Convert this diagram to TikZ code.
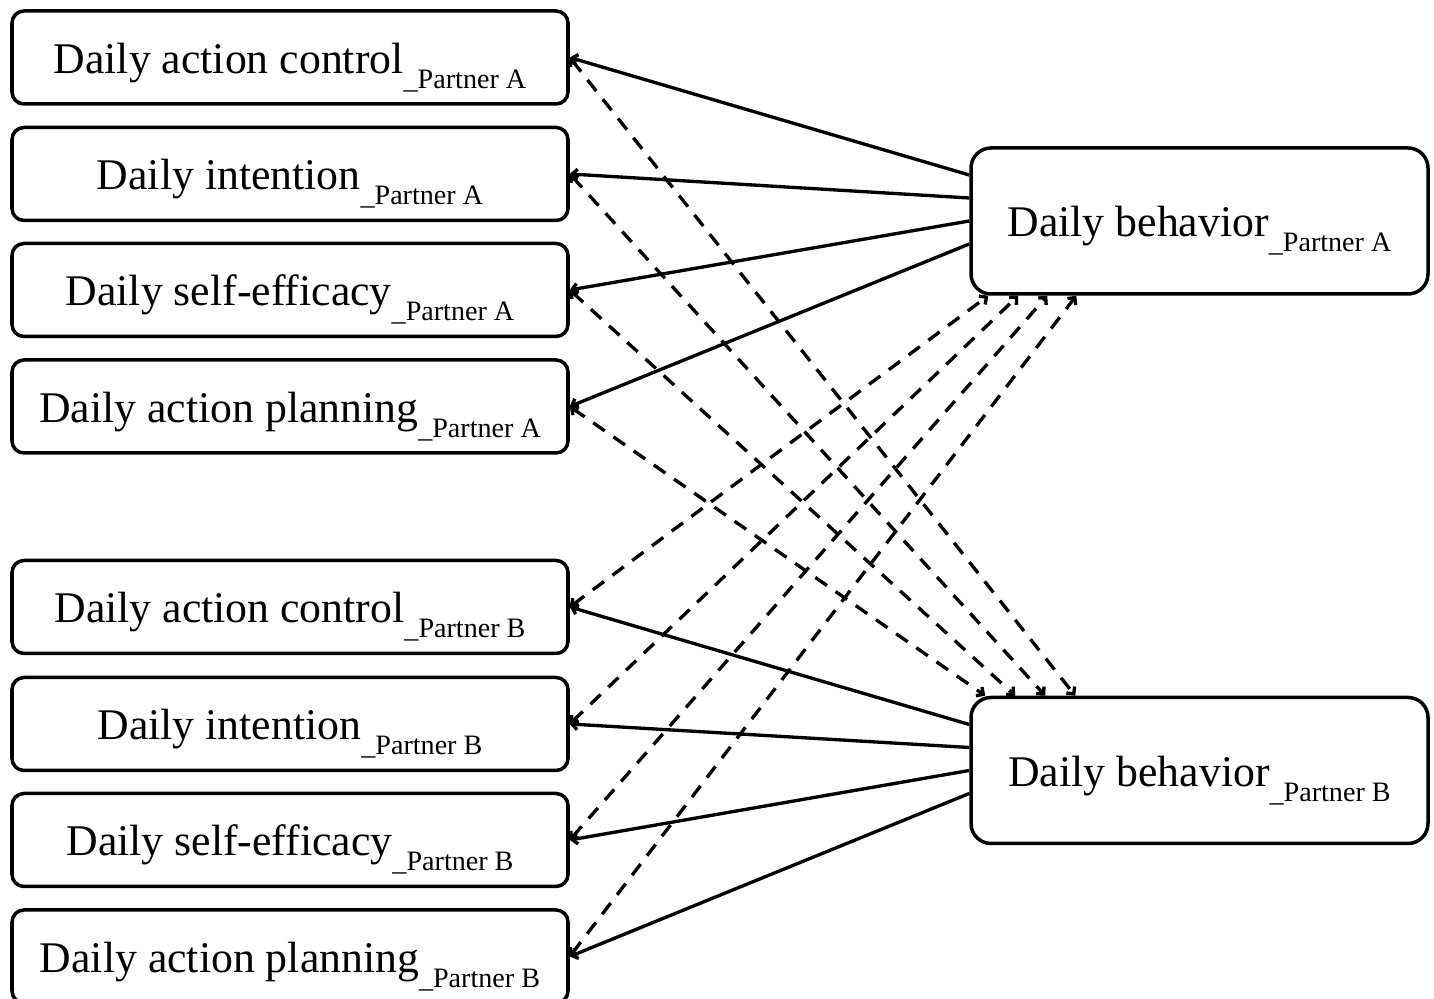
\documentclass[tikz,border=0pt]{standalone}
\usepackage{fontspec}
\setmainfont{Liberation Serif}
\usetikzlibrary{arrows.meta}
\newcommand{\ptn}[1]{\raisebox{-8.5pt}{\fontsize{16}{16}\selectfont\_Partner #1}}

\begin{document}
\begin{tikzpicture}[>={Straight Barb[length=3pt,width=6pt]},
    pred/.style={draw, line width=2pt, rounded corners=0.24cm, minimum width=11.12cm,
        minimum height=1.86cm, inner sep=0pt, text height=0.75cm, text depth=0.11cm,
        font=\fontsize{24.9}{28}\selectfont},
    outc/.style={pred, rounded corners=0.4cm, minimum width=9.14cm, minimum height=2.92cm},
    path/.style={line width=1.9pt},
    cross/.style={line width=1.9pt, dash pattern=on 8pt off 6pt}]
         \useasboundingbox (0,0) rectangle (28.68,19.98);
         % predictors, partner A
         \node[pred] (acA) at (5.8,18.83) {Daily action control\ptn{A}};
         \node[pred] (inA) at (5.8,16.5) {Daily intention\ptn{A}};
         \node[pred] (seA) at (5.8,14.18) {Daily self-efficacy\ptn{A}};
         \node[pred] (apA) at (5.8,11.85) {Daily action planning\ptn{A}};
         % predictors, partner B
         \node[pred] (acB) at (5.8,7.84) {Daily action control\ptn{B}};
         \node[pred] (inB) at (5.8,5.5) {Daily intention\ptn{B}};
         \node[pred] (seB) at (5.8,3.18) {Daily self-efficacy\ptn{B}};
         \node[pred] (apB) at (5.8,0.85) {Daily action planning\ptn{B}};
         % outcomes
         \node[outc] (bhA) at (23.99,15.56) {Daily behavior\ptn{A}};
         \node[outc] (bhB) at (23.99,4.57) {Daily behavior\ptn{B}};
         % actor paths
         \draw[path,<-] (acA.east) -- ([yshift=0.92cm]bhA.west);
         \draw[path,<-] (inA.east) -- ([yshift=0.46cm]bhA.west);
         \draw[path,<-] (seA.east) -- (bhA.west);
         \draw[path,<-] (apA.east) -- ([yshift=-0.46cm]bhA.west);
         \draw[path,<-] (acB.east) -- ([yshift=0.92cm]bhB.west);
         \draw[path,<-] (inB.east) -- ([yshift=0.46cm]bhB.west);
         \draw[path,<-] (seB.east) -- (bhB.west);
         \draw[path,<-] (apB.east) -- ([yshift=-0.46cm]bhB.west);
         % partner paths
         \draw[cross,<->] (acA.east) -- ([xshift=2.12cm]bhB.north west);
         \draw[cross,<->] (inA.east) -- ([xshift=1.52cm]bhB.north west);
         \draw[cross,<->] (seA.east) -- ([xshift=0.92cm]bhB.north west);
         \draw[cross,<->] (apA.east) -- ([xshift=0.32cm]bhB.north west);
         \draw[cross,<->] (acB.east) -- ([xshift=0.38cm]bhA.south west);
         \draw[cross,<->] (inB.east) -- ([xshift=0.98cm]bhA.south west);
         \draw[cross,<->] (seB.east) -- ([xshift=1.56cm]bhA.south west);
         \draw[cross,<->] (apB.east) -- ([xshift=2.14cm]bhA.south west);
\end{tikzpicture}
\end{document}
